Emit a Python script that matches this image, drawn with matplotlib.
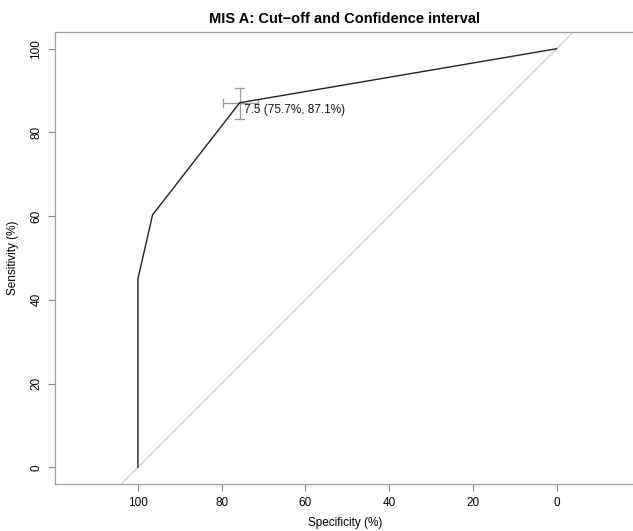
import matplotlib
matplotlib.use("Agg")
import matplotlib.pyplot as plt

plt.rcParams['font.family'] = ['Liberation Sans', 'DejaVu Sans']

specificity = [100, 100, 96.5, 75.7, 0]
sensitivity = [0, 45.0, 60.3, 87.1, 100]
thr_label = "7.5 (75.7%, 87.1%)"
thr_spec = 75.7
thr_sens = 87.1
ci_spec = [79.7, 71.4]
ci_sens = [83.1, 90.7]
ticks = [0, 20, 40, 60, 80, 100]

fig = plt.figure(figsize=(6.33, 5.31), dpi=100)
ax = fig.add_axes([0.0869, 0.0885, 0.918, 0.8512])

ax.set_xlim(119.8, -19.0)
ax.set_ylim(-4, 104)

ax.plot([120, -20], [-20, 120], color='#d3d3d3', lw=0.9, zorder=1)
ax.plot(specificity, sensitivity, color='#222222', lw=1.0, zorder=3)

ax.plot(ci_spec, [thr_sens, thr_sens], color='#999999', lw=0.9, zorder=2)
ax.plot([thr_spec, thr_spec], ci_sens, color='#999999', lw=0.9, zorder=2)
for s in ci_spec:
    ax.plot([s, s], [thr_sens - 1.0, thr_sens + 1.0], color='#999999', lw=0.9)
for v in ci_sens:
    ax.plot([thr_spec - 1.0, thr_spec + 1.0], [v, v], color='#999999', lw=0.9)

ax.text(thr_spec - 1.0, thr_sens - 0.3, thr_label, fontsize=8.5, ha='left', va='top', color='#111111')

ax.set_xticks(ticks)
ax.set_yticks(ticks)
ax.set_xticklabels([str(t) for t in ticks], fontsize=8.5)
ax.set_yticklabels([str(t) for t in ticks], fontsize=8.5, rotation=90, va='center')
ax.tick_params(direction='out', length=5, width=0.8, color='#888888', pad=4)
for sp in ax.spines.values():
    sp.set_color('#a0a0a0')
    sp.set_linewidth(0.9)

ax.set_xlabel("Specificity (%)", fontsize=8.5, labelpad=6)
ax.set_ylabel("Sensitivity (%)", fontsize=8.5, labelpad=8)
fig.suptitle("MIS A: Cut\u2212off and Confidence interval", fontsize=10.5, fontweight='bold', x=0.545, y=0.977)

fig.savefig("out.png", dpi=100)
